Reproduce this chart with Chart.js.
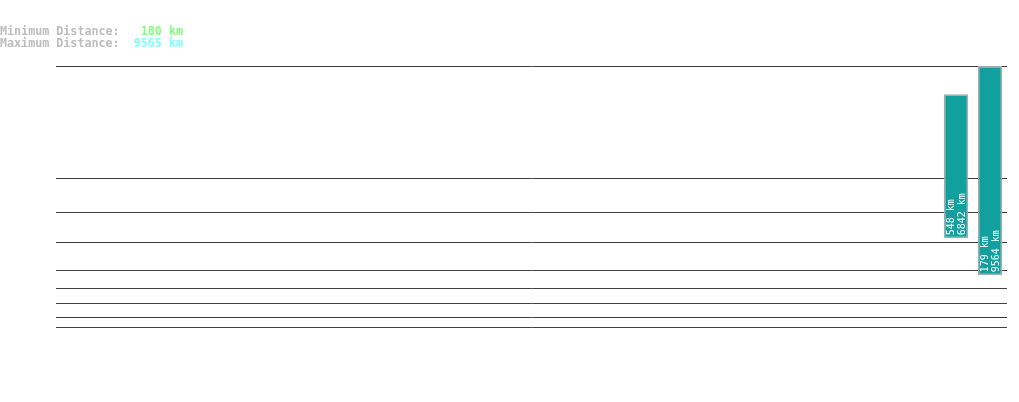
<!DOCTYPE html>
<html>
<head>
<meta charset="utf-8">
<script src="https://cdn.jsdelivr.net/npm/chart.js@4"></script>
<style>
  body { margin: 0; background: #fff; }
  #wrap { position: relative; width: 1019px; height: 402px; }
  #info {
    position: absolute; left: 0; top: 25px;
    font: bold 11.7px "DejaVu Sans Mono", monospace;
    line-height: 12px; color: #bdbdbd; white-space: pre;
  }
  .min { color: #80ff80; }
  .max { color: #80ffff; }
</style>
</head>
<body>
<div id="wrap">
  <div id="info">Minimum Distance:   <span class="min" id="minTxt"></span>
Maximum Distance:  <span class="max" id="maxTxt"></span></div>
  <canvas id="myChart" width="1019" height="402"></canvas>
</div>
<script>
// slots along the x axis, only the last two have a measurement
var slots = [];
for (var i = 1; i <= 28; i++) slots.push(String(i));

var minDistance = [548, 179];      // km, bottom of each bar
var maxDistance = [6842, 9564];    // km, top of each bar
var barSlot = ['27', '28'];
var overallMin = 180;
var overallMax = 9565;

// horizontal guide lines (km on the right bar's scale)
var gridKm = [9564, 4542, 2973, 1672, 372, -435, -1063, -1735, -2139];

document.getElementById('minTxt').textContent = overallMin + ' km';
document.getElementById('maxTxt').textContent = overallMax + ' km';

var axisIds = ['y1', 'y'];
var datasets = [];
for (var k = 0; k < minDistance.length; k++) {
    var pts = slots.map(function (s) { return null; });
    pts[slots.indexOf(barSlot[k])] = [minDistance[k], maxDistance[k]];
    datasets.push({
        data: pts,
        yAxisID: axisIds[k],
        backgroundColor: '#12a09e',
        borderColor: '#a9a9a9',
        borderWidth: 1.5,
        borderSkipped: false,
        grouped: false
    });
}

// writes "min km / max km" up the inside of each bar
const barText = {
    id: 'barText',
    afterDatasetsDraw(chart) {
        const c = chart.ctx;
        c.save();
        c.fillStyle = '#ffffff';
        c.font = '10px "DejaVu Sans Mono", monospace';
        c.textAlign = 'left';
        c.textBaseline = 'middle';
        chart.data.datasets.forEach(function (ds, k) {
            chart.getDatasetMeta(k).data.forEach(function (bar, j) {
                if (!ds.data[j]) return;
                const bottom = Math.max(bar.y, bar.base);
                c.save();
                c.translate(bar.x + 1, bottom - 3);
                c.rotate(-Math.PI / 2);
                c.fillText(minDistance[k] + ' km', 0, -6);
                c.fillText(maxDistance[k] + ' km', 0, 5.5);
                c.restore();
            });
        });
        c.restore();
    }
};

const ctx = document.getElementById('myChart').getContext('2d');
const myChart = new Chart(ctx, {
    type: 'bar',
    data: { labels: slots, datasets: datasets },
    plugins: [barText],
    options: {
        responsive: false,
        animation: false,
        layout: { padding: { left: 56, right: 12, top: 66, bottom: 75 } },
        plugins: { legend: { display: false }, tooltip: { enabled: false } },
        scales: {
            x: { display: false },
            y: {
                min: -2139, max: 9564,
                afterBuildTicks: function (s) { s.ticks = gridKm.map(function (v) { return { value: v }; }); },
                ticks: { display: false },
                border: { display: false },
                grid: { color: '#404040', lineWidth: 1, drawTicks: false }
            },
            y1: {
                display: false,
                min: -3329, max: 8079
            }
        }
    }
});
</script>
</body>
</html>
